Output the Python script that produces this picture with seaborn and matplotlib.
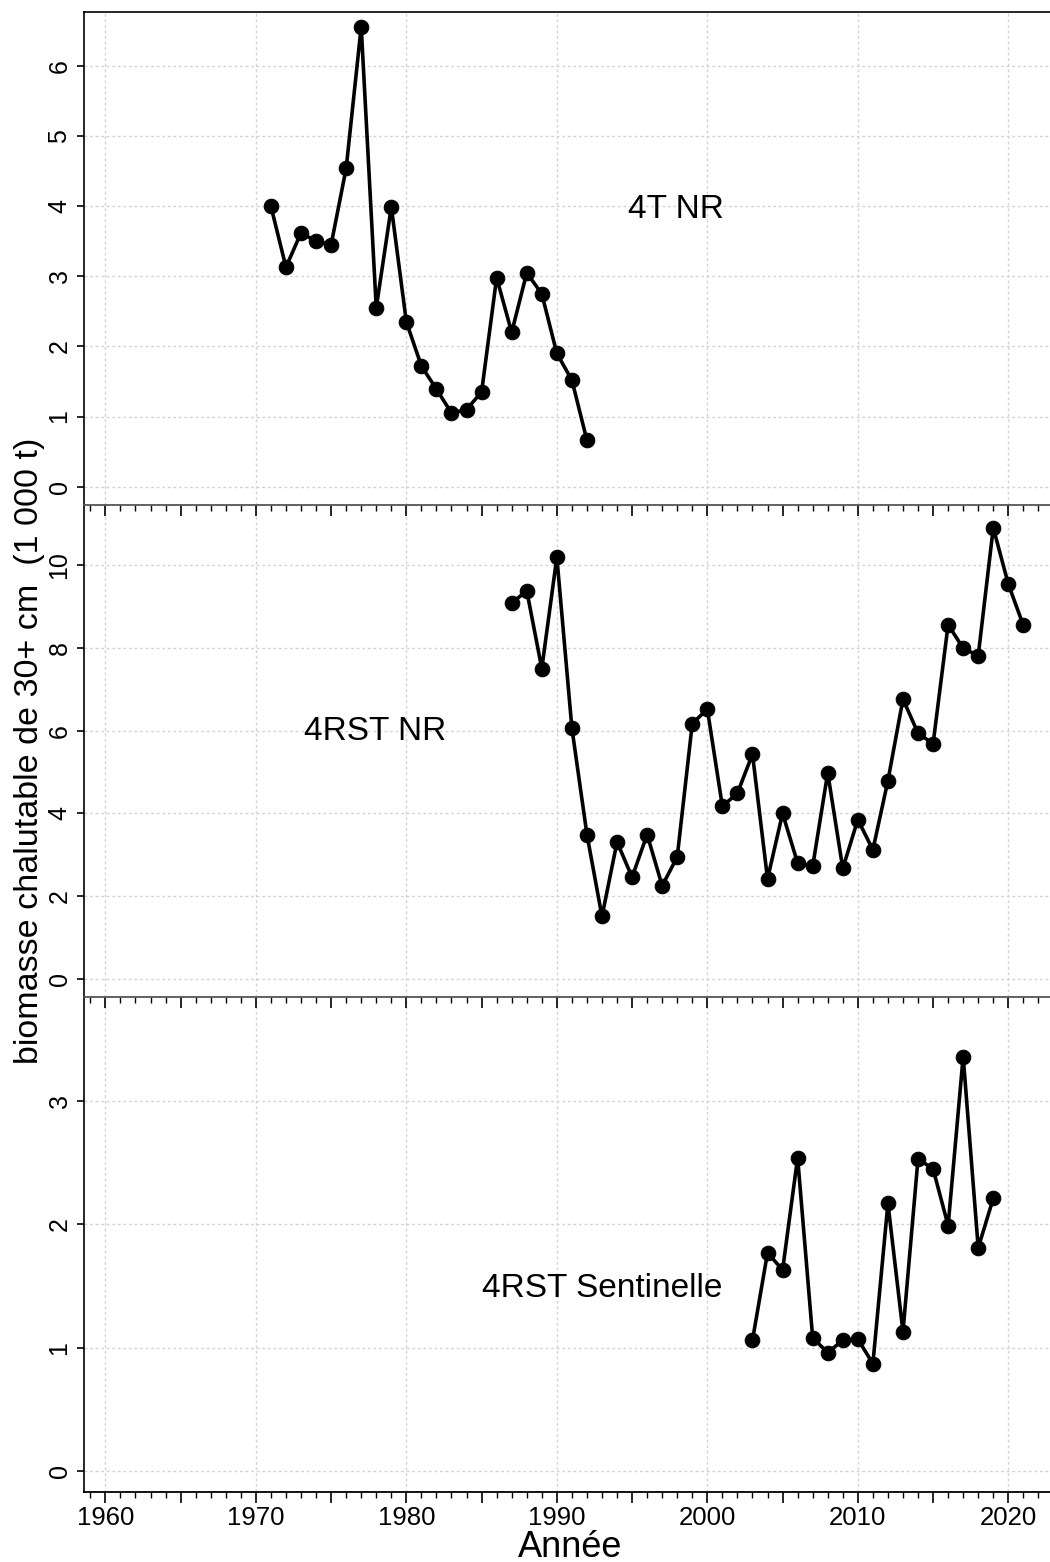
import numpy as np
import pandas as pd
import matplotlib
matplotlib.use("Agg")
import matplotlib.pyplot as plt
from matplotlib.ticker import MultipleLocator, FuncFormatter
import seaborn as sns

# --- data: trawlable biomass of 30+ cm fish (thousand tonnes) ---
years_4t = list(range(1971, 1993))
biomass_4t = [4.00, 3.13, 3.62, 3.50, 3.45, 4.54, 6.56, 2.55, 3.99, 2.35,
              1.72, 1.39, 1.05, 1.10, 1.35, 2.98, 2.20, 3.05, 2.75, 1.90,
              1.52, 0.66]

years_4rst = list(range(1987, 2022))
biomass_4rst = [9.08, 9.38, 7.50, 10.19, 6.06, 3.49, 1.51, 3.31, 2.46, 3.49,
                2.25, 2.95, 6.17, 6.52, 4.17, 4.49, 5.43, 2.42, 4.00, 2.80,
                2.72, 4.98, 2.67, 3.85, 3.12, 4.79, 6.76, 5.94, 5.68, 8.56,
                7.99, 7.81, 10.90, 9.54, 8.54]

years_sent = list(range(2003, 2020))
biomass_sent = [1.06, 1.77, 1.63, 2.54, 1.08, 0.96, 1.06, 1.07, 0.87, 2.17,
                1.13, 2.53, 2.45, 1.99, 3.36, 1.81, 2.21]

panel_labels = ["4T NR", "4RST NR", "4RST Sentinelle"]
y_ticks = [list(range(0, 7)), list(range(0, 11, 2)), list(range(0, 4))]
x_label = "Année"
y_label = "biomasse chalutable de 30+ cm  (1 000 t)"

sns.set_theme(style="white")
plt.rcParams["font.family"] = ["Liberation Sans", "DejaVu Sans"]
plt.rcParams["text.color"] = "black"
plt.rcParams["xtick.color"] = "black"
plt.rcParams["ytick.color"] = "black"
plt.rcParams["xtick.labelcolor"] = "black"
plt.rcParams["ytick.labelcolor"] = "black"

fig = plt.figure(figsize=(10.5, 15.62), dpi=100)
fig.patch.set_facecolor("white")

W, H = 1050.0, 1562.0
left_px, right_px = 84.0, 1050.0
panel_px = [(12, 505), (505, 997), (997, 1492)]
ylims = [(-0.262, 6.77), (-0.435, 11.45), (-0.17, 3.843)]
text_pos = [(1997.9, 3.96), (1977.9, 5.97), (1993.0, 1.48)]

series = [(years_4t, biomass_4t), (years_4rst, biomass_4rst), (years_sent, biomass_sent)]

axes = []
for i, ((top, bot), (yrs, vals)) in enumerate(zip(panel_px, series)):
    ax = fig.add_axes([left_px / W, 1 - bot / H, (right_px - left_px) / W, (bot - top) / H])
    ax.set_facecolor("none")
    ax.set_zorder(10 - i)
    df = pd.DataFrame({"annee": yrs, "biomasse": vals})
    sns.lineplot(data=df, x="annee", y="biomasse", ax=ax, color="black",
                 linewidth=2.6, marker="o", markersize=10.5,
                 markeredgecolor="black", markerfacecolor="black", zorder=5)
    ax.set_xlim(1958.58, 2022.77)
    ax.set_ylim(*ylims[i])
    ax.set_yticks(y_ticks[i])
    ax.set_xlabel("")
    ax.set_ylabel("")

    # grid: dotted light grey at decades and y ticks
    for yr in range(1960, 2030, 10):
        ax.axvline(yr, color="#d3d3d3", lw=1.0, ls=(0, (2, 2)), zorder=1)
    for yv in y_ticks[i]:
        ax.axhline(yv, color="#d3d3d3", lw=1.0, ls=(0, (2, 2)), zorder=1)

    ax.xaxis.set_major_locator(MultipleLocator(5))
    ax.xaxis.set_minor_locator(MultipleLocator(1))
    ax.tick_params(axis="x", which="major", direction="out", length=8, width=1.2,
                   color="black", bottom=True, labelsize=18.5, pad=2,
                   labelcolor="black")
    ax.tick_params(axis="x", which="minor", direction="out", length=4.5, width=1.0,
                   color="black", bottom=True)
    ax.tick_params(axis="y", which="major", direction="out", length=5, width=1.2,
                   color="black", left=True, labelsize=18, pad=4,
                   labelcolor="black")
    for lab in ax.get_yticklabels():
        lab.set_rotation(90)
        lab.set_va("center")
    if i < 2:
        ax.tick_params(axis="x", labelbottom=False)
    else:
        ax.xaxis.set_major_formatter(
            FuncFormatter(lambda v, p: f"{int(round(v))}" if int(round(v)) % 10 == 0 else ""))

    ax.spines["right"].set_visible(False)
    ax.spines["left"].set_color("black")
    ax.spines["left"].set_linewidth(1.2)
    ax.spines["top"].set_visible(i == 0)
    ax.spines["top"].set_color("black")
    ax.spines["top"].set_linewidth(1.2)
    ax.spines["bottom"].set_color("#555555" if i < 2 else "black")
    ax.spines["bottom"].set_linewidth(1.3)

    ax.text(text_pos[i][0], text_pos[i][1], panel_labels[i], fontsize=24,
            ha="center", va="center", color="black", zorder=6)
    axes.append(ax)

fig.text(30 / W, 1 - 751 / H, y_label, rotation=90, ha="center", va="center",
         fontsize=24.5, color="black")
fig.text(570 / W, 1 - 1557 / H, x_label, ha="center", va="baseline",
         fontsize=26, color="black")

fig.savefig("out.png", dpi=100, facecolor="white")
